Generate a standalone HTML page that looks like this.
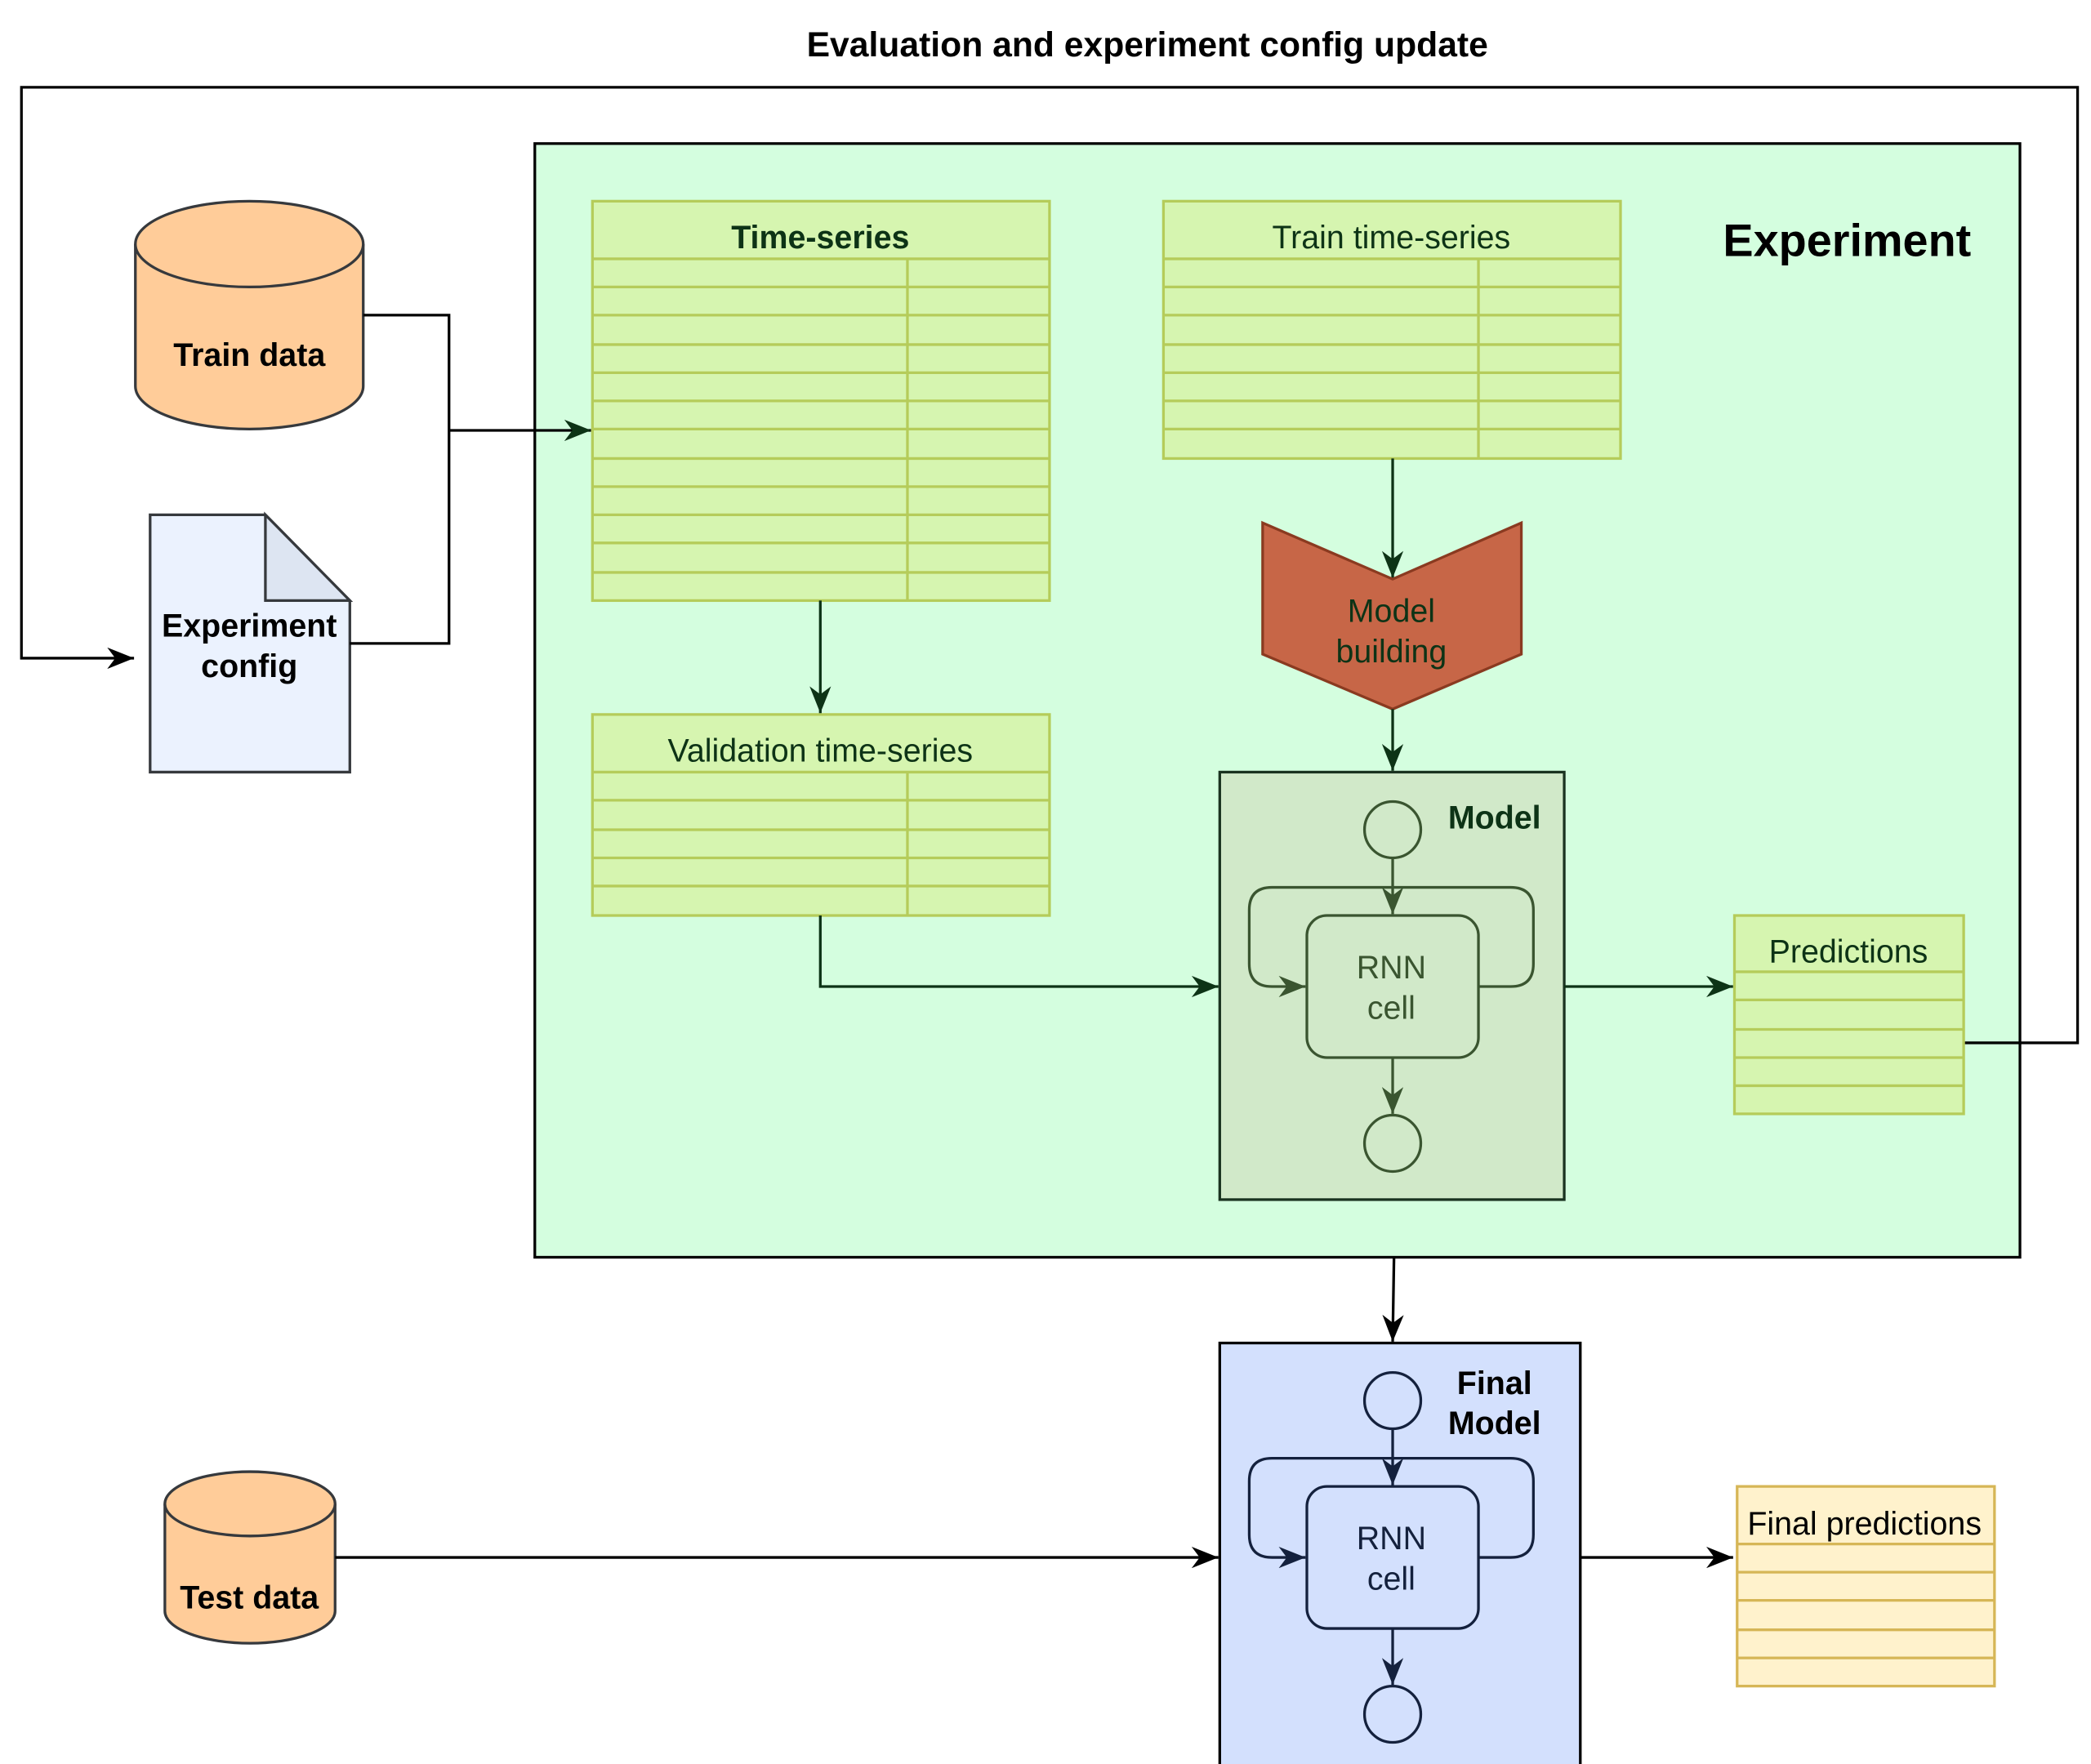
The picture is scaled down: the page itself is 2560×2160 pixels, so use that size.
<!DOCTYPE html>
<html><head><meta charset="utf-8"><style>html,body{margin:0;padding:0;background:#fff}svg{display:block}text{font-family:"Liberation Sans",Arial,sans-serif}</style></head>
<body>
<svg width="2560" height="2160" viewBox="0 0 1560 1316" xmlns="http://www.w3.org/2000/svg">
<defs>
<marker id="ab" viewBox="0 0 10 10" refX="10" refY="5" markerWidth="20" markerHeight="16" markerUnits="userSpaceOnUse" orient="auto" preserveAspectRatio="none"><path d="M0,0 L10,5 L0,10 L3,5 z" fill="#000"/></marker>
<marker id="ag" viewBox="0 0 10 10" refX="10" refY="5" markerWidth="20" markerHeight="16" markerUnits="userSpaceOnUse" orient="auto" preserveAspectRatio="none"><path d="M0,0 L10,5 L0,10 L3,5 z" fill="#0d3316"/></marker>
<marker id="am" viewBox="0 0 10 10" refX="10" refY="5" markerWidth="20" markerHeight="16" markerUnits="userSpaceOnUse" orient="auto" preserveAspectRatio="none"><path d="M0,0 L10,5 L0,10 L3,5 z" fill="#3a5530"/></marker>
<marker id="an" viewBox="0 0 10 10" refX="10" refY="5" markerWidth="20" markerHeight="16" markerUnits="userSpaceOnUse" orient="auto" preserveAspectRatio="none"><path d="M0,0 L10,5 L0,10 L3,5 z" fill="#14213d"/></marker>
</defs>

<text x="856" y="42" font-size="26" font-weight="bold" text-anchor="middle">Evaluation and experiment config update</text>

<rect x="399" y="107" width="1108" height="831" fill="#d4fedf" stroke="#000" stroke-width="2"/>
<text x="1378" y="191" font-size="34" font-weight="bold" text-anchor="middle">Experiment</text>

<path d="M1465,778 H1550 V65 H16 V491 H100" fill="none" stroke="#000" stroke-width="2" marker-end="url(#ab)"/>

<path d="M101,182 V288 A85,32 0 0 0 271,288 V182" fill="#ffcc99" stroke="#36393d" stroke-width="2"/>
<ellipse cx="186" cy="182" rx="85" ry="32" fill="#ffcc99" stroke="#36393d" stroke-width="2"/>
<text x="186" y="273" font-size="24" font-weight="bold" text-anchor="middle">Train data</text>

<path d="M112,384 H198 L261,448 V576 H112 Z" fill="#ebf2fe" stroke="#36393d" stroke-width="2"/>
<path d="M198,384 V448 H261 Z" fill="#dde5f2" stroke="#36393d" stroke-width="2"/>
<text x="186" y="475" font-size="24" font-weight="bold" text-anchor="middle">Experiment</text>
<text x="186" y="505" font-size="24" font-weight="bold" text-anchor="middle">config</text>

<path d="M271,235 H335 V480 H261" fill="none" stroke="#000" stroke-width="2"/>
<path d="M335,321 H441" fill="none" stroke="#000" stroke-width="2" marker-end="url(#ag)"/>

<g stroke="#b5cc5a" stroke-width="2" fill="#d6f5b0">
<rect x="442" y="150" width="341" height="298"/>
<line x1="442" y1="193" x2="783" y2="193"/>
<line x1="442" y1="214" x2="783" y2="214"/><line x1="442" y1="235" x2="783" y2="235"/><line x1="442" y1="257" x2="783" y2="257"/><line x1="442" y1="278" x2="783" y2="278"/><line x1="442" y1="299" x2="783" y2="299"/><line x1="442" y1="320" x2="783" y2="320"/><line x1="442" y1="342" x2="783" y2="342"/><line x1="442" y1="363" x2="783" y2="363"/><line x1="442" y1="384" x2="783" y2="384"/><line x1="442" y1="405" x2="783" y2="405"/><line x1="442" y1="427" x2="783" y2="427"/>
<line x1="677" y1="193" x2="677" y2="448"/>
</g>
<text x="612" y="185" font-size="24" font-weight="bold" fill="#0d3316" text-anchor="middle">Time-series</text>

<g stroke="#b5cc5a" stroke-width="2" fill="#d6f5b0">
<rect x="868" y="150" width="341" height="192"/>
<line x1="868" y1="193" x2="1209" y2="193"/>
<line x1="868" y1="214" x2="1209" y2="214"/><line x1="868" y1="235" x2="1209" y2="235"/><line x1="868" y1="257" x2="1209" y2="257"/><line x1="868" y1="278" x2="1209" y2="278"/><line x1="868" y1="299" x2="1209" y2="299"/><line x1="868" y1="320" x2="1209" y2="320"/>
<line x1="1103" y1="193" x2="1103" y2="342"/>
</g>
<text x="1038" y="185" font-size="24" fill="#0d3316" text-anchor="middle">Train time-series</text>

<g stroke="#b5cc5a" stroke-width="2" fill="#d6f5b0">
<rect x="442" y="533" width="341" height="150"/>
<line x1="442" y1="576" x2="783" y2="576"/>
<line x1="442" y1="597" x2="783" y2="597"/><line x1="442" y1="619" x2="783" y2="619"/><line x1="442" y1="640" x2="783" y2="640"/><line x1="442" y1="661" x2="783" y2="661"/>
<line x1="677" y1="576" x2="677" y2="683"/>
</g>
<text x="612" y="568" font-size="24" fill="#0d3316" text-anchor="middle">Validation time-series</text>

<path d="M612,448 V532" fill="none" stroke="#0d3316" stroke-width="2" marker-end="url(#ag)"/>
<path d="M1039,342 V431" fill="none" stroke="#0d3316" stroke-width="2" marker-end="url(#ag)"/>

<path d="M942,390 L1039,432 L1135,390 V488 L1039,529 L942,488 Z" fill="#c76647" stroke="#8a3a20" stroke-width="2"/>
<text x="1038" y="464" font-size="24" fill="#0d3316" text-anchor="middle">Model</text>
<text x="1038" y="494" font-size="24" fill="#0d3316" text-anchor="middle">building</text>
<path d="M1039,529 V575" fill="none" stroke="#0d3316" stroke-width="2" marker-end="url(#ag)"/>

<rect x="910" y="576" width="257" height="319" fill="#d1e9c9" stroke="#1a3320" stroke-width="2"/>
<text x="1115" y="618" font-size="24" font-weight="bold" fill="#0d3316" text-anchor="middle">Model</text>
<g stroke="#3a5530" stroke-width="2" fill="none">
<circle cx="1039" cy="619" r="21"/>
<circle cx="1039" cy="853" r="21"/>
<rect x="975" y="683" width="128" height="106" rx="15"/>
<path d="M1103,736 H1127 Q1144,736 1144,719 V679 Q1144,662 1127,662 H949 Q932,662 932,679 V719 Q932,736 949,736 H974" marker-end="url(#am)"/>
<path d="M1039,640 V682" marker-end="url(#am)"/>
<path d="M1039,789 V831" marker-end="url(#am)"/>
</g>
<text x="1038" y="730" font-size="24" fill="#3a5530" text-anchor="middle">RNN</text>
<text x="1038" y="760" font-size="24" fill="#3a5530" text-anchor="middle">cell</text>

<path d="M612,683 V736 H909" fill="none" stroke="#0d3316" stroke-width="2" marker-end="url(#ag)"/>
<path d="M1167,736 H1293" fill="none" stroke="#0d3316" stroke-width="2" marker-end="url(#ag)"/>

<g stroke="#b5cc5a" stroke-width="2" fill="#d6f5b0">
<rect x="1294" y="683" width="171" height="148"/>
<line x1="1294" y1="725" x2="1465" y2="725"/><line x1="1294" y1="746" x2="1465" y2="746"/><line x1="1294" y1="768" x2="1465" y2="768"/><line x1="1294" y1="789" x2="1465" y2="789"/><line x1="1294" y1="810" x2="1465" y2="810"/>
</g>
<text x="1379" y="718" font-size="24" fill="#0d3316" text-anchor="middle">Predictions</text>

<path d="M1040,938 L1039,1001" fill="none" stroke="#000" stroke-width="2" marker-end="url(#ab)"/>

<rect x="910" y="1002" width="269" height="318" fill="#d3e0fd" stroke="#000" stroke-width="2"/>
<text x="1115" y="1040" font-size="24" font-weight="bold" text-anchor="middle">Final</text>
<text x="1115" y="1070" font-size="24" font-weight="bold" text-anchor="middle">Model</text>
<g stroke="#14213d" stroke-width="2" fill="none">
<circle cx="1039" cy="1045" r="21"/>
<circle cx="1039" cy="1279" r="21"/>
<rect x="975" y="1109" width="128" height="106" rx="15"/>
<path d="M1103,1162 H1127 Q1144,1162 1144,1145 V1105 Q1144,1088 1127,1088 H949 Q932,1088 932,1105 V1145 Q932,1162 949,1162 H974" marker-end="url(#an)"/>
<path d="M1039,1066 V1108" marker-end="url(#an)"/>
<path d="M1039,1215 V1257" marker-end="url(#an)"/>
</g>
<text x="1038" y="1156" font-size="24" fill="#14213d" text-anchor="middle">RNN</text>
<text x="1038" y="1186" font-size="24" fill="#14213d" text-anchor="middle">cell</text>

<path d="M123,1122 V1202 A63.5,24 0 0 0 250,1202 V1122" fill="#ffcc99" stroke="#36393d" stroke-width="2"/>
<ellipse cx="186.5" cy="1122" rx="63.5" ry="24" fill="#ffcc99" stroke="#36393d" stroke-width="2"/>
<text x="186" y="1200" font-size="24" font-weight="bold" text-anchor="middle">Test data</text>

<path d="M250,1162 H909" fill="none" stroke="#000" stroke-width="2" marker-end="url(#ab)"/>
<path d="M1179,1162 H1293" fill="none" stroke="#000" stroke-width="2" marker-end="url(#ab)"/>

<g stroke="#d6b656" stroke-width="2" fill="#fff2cc">
<rect x="1296" y="1109" width="192" height="149"/>
<line x1="1296" y1="1152" x2="1488" y2="1152"/><line x1="1296" y1="1173" x2="1488" y2="1173"/><line x1="1296" y1="1194" x2="1488" y2="1194"/><line x1="1296" y1="1216" x2="1488" y2="1216"/><line x1="1296" y1="1237" x2="1488" y2="1237"/>
</g>
<text x="1391" y="1145" font-size="24" text-anchor="middle">Final predictions</text>
</svg>
</body></html>
